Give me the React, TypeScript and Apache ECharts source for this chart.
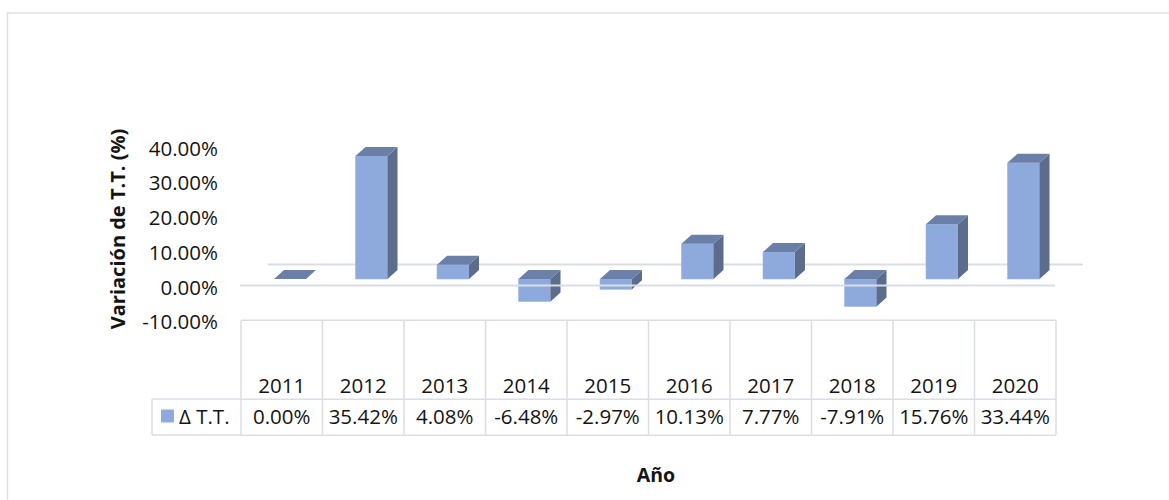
import React, { useEffect, useRef } from "react";
import * as echarts from "echarts";

const years = ["2011", "2012", "2013", "2014", "2015", "2016", "2017", "2018", "2019", "2020"];
const variation = [0.0, 35.42, 4.08, -6.48, -2.97, 10.13, 7.77, -7.91, 15.76, 33.44];
const seriesName = "Δ T.T.";
const yTitle = "Variación de T.T. (%)";
const xTitle = "Año";

const FRONT = "#8eaadc";
const TOP = "#6b80a9";
const SIDE = "#5b6c8d";
const GRID_LINE = "#d9dde4";
const TEXT = "#141414";
const FONT = "Open Sans";
const FS = 20.5;

const fmt = (v: number) => v.toFixed(2) + "%";

export default function App() {
  const ref = useRef<HTMLDivElement>(null);

  useEffect(() => {
    if (!ref.current) return;
    const chart = echarts.init(ref.current, undefined, { renderer: "svg" });
    const idx = years.map((_, i) => i);

    const option: any = {
      animation: false,
      textStyle: { fontFamily: FONT },
      grid: { left: 241, top: 147.5, width: 815, height: 173.75 },
      legend: {
        left: 161,
        top: 404,
        padding: 0,
        itemWidth: 13,
        itemHeight: 13,
        itemGap: 5,
        selectedMode: false,
        data: [{ name: seriesName, icon: "rect" }],
        textStyle: { fontFamily: FONT, fontSize: FS, color: TEXT, lineHeight: 24, padding: [0, 0, 0, 0] },
      },
      xAxis: {
        type: "category",
        data: years,
        axisLine: { show: false },
        axisTick: { show: false },
        splitLine: { show: false },
        axisLabel: {
          interval: 0,
          margin: 48,
          formatter: (val: string, i: number) => `{y|${val}}\n{v|${fmt(variation[i])}}`,
          rich: {
            y: { fontFamily: FONT, fontSize: FS, lineHeight: 31, color: TEXT },
            v: { fontFamily: FONT, fontSize: FS, lineHeight: 31, color: TEXT },
          },
        },
      },
      yAxis: {
        type: "value",
        min: -10,
        max: 40,
        interval: 10,
        axisLine: { show: false },
        axisTick: { show: false },
        splitLine: { show: false },
        axisLabel: {
          margin: 23,
          fontFamily: FONT,
          fontSize: FS,
          color: TEXT,
          formatter: (v: number) => fmt(v),
        },
      },
      graphic: [
        {
          type: "rect",
          shape: { x: 7.5, y: 13, width: 1180, height: 520 },
          style: { fill: "none", stroke: "#dde1e7", lineWidth: 1.5 },
          silent: true,
        },
        {
          type: "text",
          x: 117,
          y: 229,
          rotation: Math.PI / 2,
          style: {
            text: yTitle,
            fontFamily: FONT,
            fontWeight: "bold",
            fontSize: 20,
            fill: TEXT,
            textAlign: "center",
            textVerticalAlign: "middle",
          },
        },
        {
          type: "text",
          x: 656,
          y: 474,
          style: {
            text: xTitle,
            fontFamily: FONT,
            fontWeight: "bold",
            fontSize: 19.5,
            fill: TEXT,
            textAlign: "center",
            textVerticalAlign: "middle",
          },
        },
        {
          type: "line",
          shape: { x1: 152, y1: 399, x2: 241, y2: 399 },
          style: { stroke: GRID_LINE, lineWidth: 1.5 },
        },
        {
          type: "line",
          shape: { x1: 152, y1: 435, x2: 241, y2: 435 },
          style: { stroke: GRID_LINE, lineWidth: 1.5 },
        },
        {
          type: "line",
          shape: { x1: 152, y1: 399, x2: 152, y2: 435 },
          style: { stroke: GRID_LINE, lineWidth: 1.5 },
        },
      ],
      series: [
        {
          type: "custom",
          name: "backFloor",
          z: 1,
          silent: true,
          clip: false,
          data: idx,
          renderItem: (params: any, api: any) => {
            const i = api.value(0);
            const [cx, y0] = api.coord([i, 0]);
            const bw = api.size([1, 0])[0];
            const y = y0 - 22;
            return {
              type: "line",
              shape: { x1: cx - bw / 2 + 27, y1: y, x2: cx + bw / 2 + 27, y2: y },
              style: { stroke: GRID_LINE, lineWidth: 2 },
            };
          },
        },
        {
          type: "custom",
          name: seriesName,
          z: 2,
          clip: false,
          itemStyle: { color: FRONT },
          data: variation.map((v, i) => [i, v]),
          renderItem: (params: any, api: any) => {
            const i = api.value(0);
            const v = api.value(1);
            const [cx, y0] = api.coord([i, 0]);
            const yv = api.coord([i, v])[1];
            const oy = -7.5;
            const w = 32;
            const dx = 10;
            const dy = 9;
            const L = cx - 7.75;
            const top = Math.min(y0, yv) + oy;
            const bottom = Math.max(y0, yv) + oy;
            const R = L + w;
            const children: any[] = [];
            if (bottom - top > 0.1) {
              children.push({
                type: "rect",
                shape: { x: L, y: top, width: w, height: bottom - top },
                style: { fill: FRONT, stroke: "#9fb6e0", lineWidth: 0.6 },
              });
              children.push({
                type: "polygon",
                shape: { points: [[R, top], [R + dx, top - dy], [R + dx, bottom - dy], [R, bottom]] },
                style: { fill: SIDE },
              });
            }
            children.push({
              type: "polygon",
              shape: { points: [[L, top], [R, top], [R + dx, top - dy], [L + dx, top - dy]] },
              style: { fill: TOP },
            });
            return { type: "group", children };
          },
        },
        {
          type: "custom",
          name: "frontAndTable",
          z: 3,
          silent: true,
          clip: false,
          data: idx,
          renderItem: (params: any, api: any) => {
            const i = api.value(0);
            const [cx, y0] = api.coord([i, 0]);
            const yb = api.coord([i, -10])[1];
            const bw = api.size([1, 0])[0];
            const xl = cx - bw / 2;
            const xr = cx + bw / 2;
            const tTop = yb - 1;
            const tMid = tTop + 79;
            const tBot = tTop + 115;
            const st = { stroke: GRID_LINE, lineWidth: 1.5 };
            const children: any[] = [
              {
                type: "line",
                shape: { x1: xl - 1, y1: y0 - 1, x2: xr - 1, y2: y0 - 1 },
                style: { stroke: GRID_LINE, lineWidth: 2 },
              },
              { type: "line", shape: { x1: xl, y1: tTop, x2: xr, y2: tTop }, style: st },
              { type: "line", shape: { x1: xl, y1: tMid, x2: xr, y2: tMid }, style: st },
              { type: "line", shape: { x1: xl, y1: tBot, x2: xr, y2: tBot }, style: st },
              { type: "line", shape: { x1: xl, y1: tTop, x2: xl, y2: tBot }, style: st },
            ];
            if (i === years.length - 1) {
              children.push({ type: "line", shape: { x1: xr, y1: tTop, x2: xr, y2: tBot }, style: st });
            }
            return { type: "group", children };
          },
        },
      ],
    };

    chart.setOption(option);
    return () => chart.dispose();
  }, []);

  return (
    <div
      ref={ref}
      style={{ position: "fixed", left: 0, top: 0, width: 1169, height: 500, background: "#fff" }}
    />
  );
}
